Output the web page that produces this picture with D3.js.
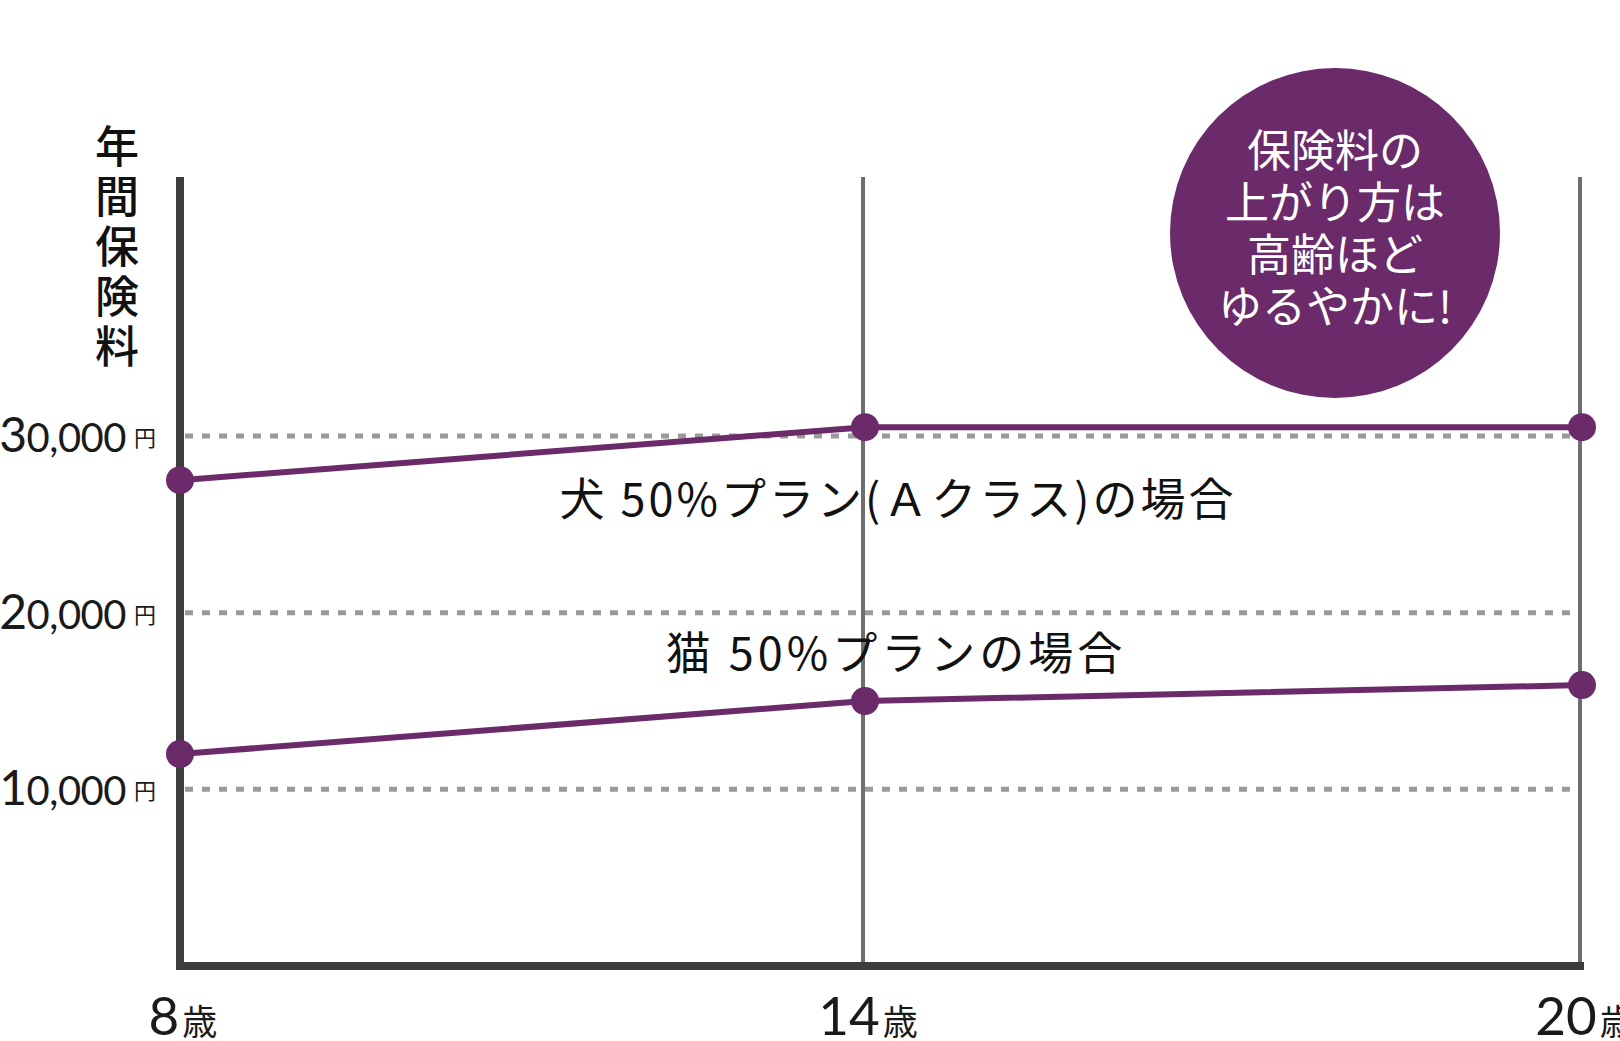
<!DOCTYPE html>
<html>
<head>
<meta charset="utf-8">
<script src="https://cdn.jsdelivr.net/npm/d3@7"></script>
<style>
  html, body { margin: 0; padding: 0; background: #fff; }
  svg { display: block; }
  text { font-family: "Noto Sans CJK JP", "Noto Sans", sans-serif; }
</style>
</head>
<body>
<div id="container"></div>
<script>
var ages = [8, 14, 20];
var ageLabels = ["8", "14", "20"];
var dogPremium = [27500, 30500, 30500];
var catPremium = [12000, 15000, 15900];
var yTicks = [10000, 20000, 30000];
var yTickLabels = ["10,000", "20,000", "30,000"];
var dogLabel = "犬 50%プラン(Ａクラス)の場合";
var catLabel = "猫 50%プランの場合";
var yTitle = "年間保険料";
var bubbleLines = ["保険料の", "上がり方は", "高齢ほど", "ゆるやかに!"];

var purple = "#6b2a69",
    axisDark = "#3d3d3d",
    gridGray = "#6e6e6e",
    dotGray = "#9a9a9a";

var svg_width = 1620,
    svg_height = 1041;

var top_y = 177,
    bottom_y = 966;

// ages are not evenly spaced on the original, so the scale gets a stop per age
var x = d3.scaleLinear()
    .domain(ages)
    .range([180, 865, 1582]);

var y = d3.scaleLinear()
    .domain([0, 30000])
    .range([bottom_y, 436]);

var svg = d3.select("#container").append("svg")
    .attr("width", svg_width)
    .attr("height", svg_height);

// dotted horizontal grid
svg.selectAll(".hgrid")
    .data(yTicks)
    .enter().append("line")
    .attr("class", "hgrid")
    .attr("x1", x(8) + 5)
    .attr("x2", x(20) - 2)
    .attr("y1", function(d) { return y(d); })
    .attr("y2", function(d) { return y(d); })
    .style("stroke", dotGray)
    .style("stroke-width", 5)
    .style("stroke-dasharray", "8 9");

// vertical grid at 14 and 20
svg.selectAll(".vgrid")
    .data(ages.slice(1))
    .enter().append("line")
    .attr("class", "vgrid")
    .attr("x1", function(d) { return x(d) - 2; })
    .attr("x2", function(d) { return x(d) - 2; })
    .attr("y1", top_y)
    .attr("y2", bottom_y)
    .style("stroke", gridGray)
    .style("stroke-width", 4);

// axes
svg.append("line")
    .attr("x1", x(8))
    .attr("x2", x(8))
    .attr("y1", top_y)
    .attr("y2", bottom_y + 4)
    .style("stroke", axisDark)
    .style("stroke-width", 8);

svg.append("line")
    .attr("x1", x(8) - 4)
    .attr("x2", x(20) + 2)
    .attr("y1", bottom_y)
    .attr("y2", bottom_y)
    .style("stroke", axisDark)
    .style("stroke-width", 8);

// series
var series = [dogPremium, catPremium];

var line = d3.line()
    .x(function(d, i) { return x(ages[i]); })
    .y(function(d) { return y(d); });

svg.selectAll(".series")
    .data(series)
    .enter().append("path")
    .attr("class", "series")
    .attr("d", line)
    .style("fill", "none")
    .style("stroke", purple)
    .style("stroke-width", 6);

series.forEach(function(s) {
  svg.selectAll(null)
      .data(s)
      .enter().append("circle")
      .attr("cx", function(d, i) { return x(ages[i]); })
      .attr("cy", function(d) { return y(d); })
      .attr("r", 14)
      .style("fill", purple);
});

// y tick labels, first digit a bit larger like the original
var ylab = svg.selectAll(".ytick")
    .data(yTicks)
    .enter().append("g")
    .attr("class", "ytick");

ylab.append("text")
    .attr("x", 126)
    .attr("y", function(d) { return y(d) + 16; })
    .attr("text-anchor", "end")
    .style("font-family", "Lato, 'Noto Sans', sans-serif")
    .style("letter-spacing", "-0.5px")
    .style("fill", "#1a1a1a")
    .each(function(d, i) {
      var t = d3.select(this), s = yTickLabels[i];
      t.append("tspan").style("font-size", "48px").text(s.charAt(0));
      t.append("tspan").style("font-size", "40px").text(s.slice(1));
    });

ylab.append("text")
    .attr("x", 134)
    .attr("y", function(d) { return y(d) + 10; })
    .style("font-size", "22px")
    .style("fill", "#1a1a1a")
    .text("円");

// x labels
var xlab = svg.selectAll(".xtick")
    .data(ages)
    .enter().append("text")
    .attr("class", "xtick")
    .attr("x", function(d) { return x(d) + 3; })
    .attr("y", 1035)
    .attr("text-anchor", "middle")
    .style("fill", "#1a1a1a");

xlab.append("tspan")
    .style("font-family", "Lato, 'Noto Sans', sans-serif")
    .style("font-size", "53px")
    .text(function(d, i) { return ageLabels[i]; });

xlab.append("tspan")
    .attr("dx", 3)
    .style("font-size", "35px")
    .text("歳");

// y title, set vertically
svg.append("text")
    .attr("x", 117)
    .attr("y", 124)
    .style("writing-mode", "vertical-rl")
    .style("font-size", "44px")
    .style("font-weight", 500)
    .style("letter-spacing", "6px")
    .style("fill", "#111")
    .text(yTitle);

// series labels
svg.append("text")
    .attr("x", 898)
    .attr("y", 516)
    .attr("text-anchor", "middle")
    .style("font-size", "45px")
    .style("letter-spacing", "3px")
    .style("fill", "#111")
    .text(dogLabel);

svg.append("text")
    .attr("x", 896)
    .attr("y", 670)
    .attr("text-anchor", "middle")
    .style("font-size", "45px")
    .style("letter-spacing", "4px")
    .style("fill", "#111")
    .text(catLabel);

// bubble
svg.append("circle")
    .attr("cx", 1335)
    .attr("cy", 233)
    .attr("r", 165)
    .style("fill", purple);

svg.append("text")
    .attr("class", "bubble")
    .attr("text-anchor", "middle")
    .style("font-size", "44px")
    .style("font-weight", 400)
    .style("fill", "#fff")
    .selectAll("tspan")
    .data(bubbleLines)
    .enter().append("tspan")
    .attr("x", 1335)
    .attr("y", function(d, i) { return 167 + i * 52; })
    .text(function(d) { return d; });
</script>
</body>
</html>
